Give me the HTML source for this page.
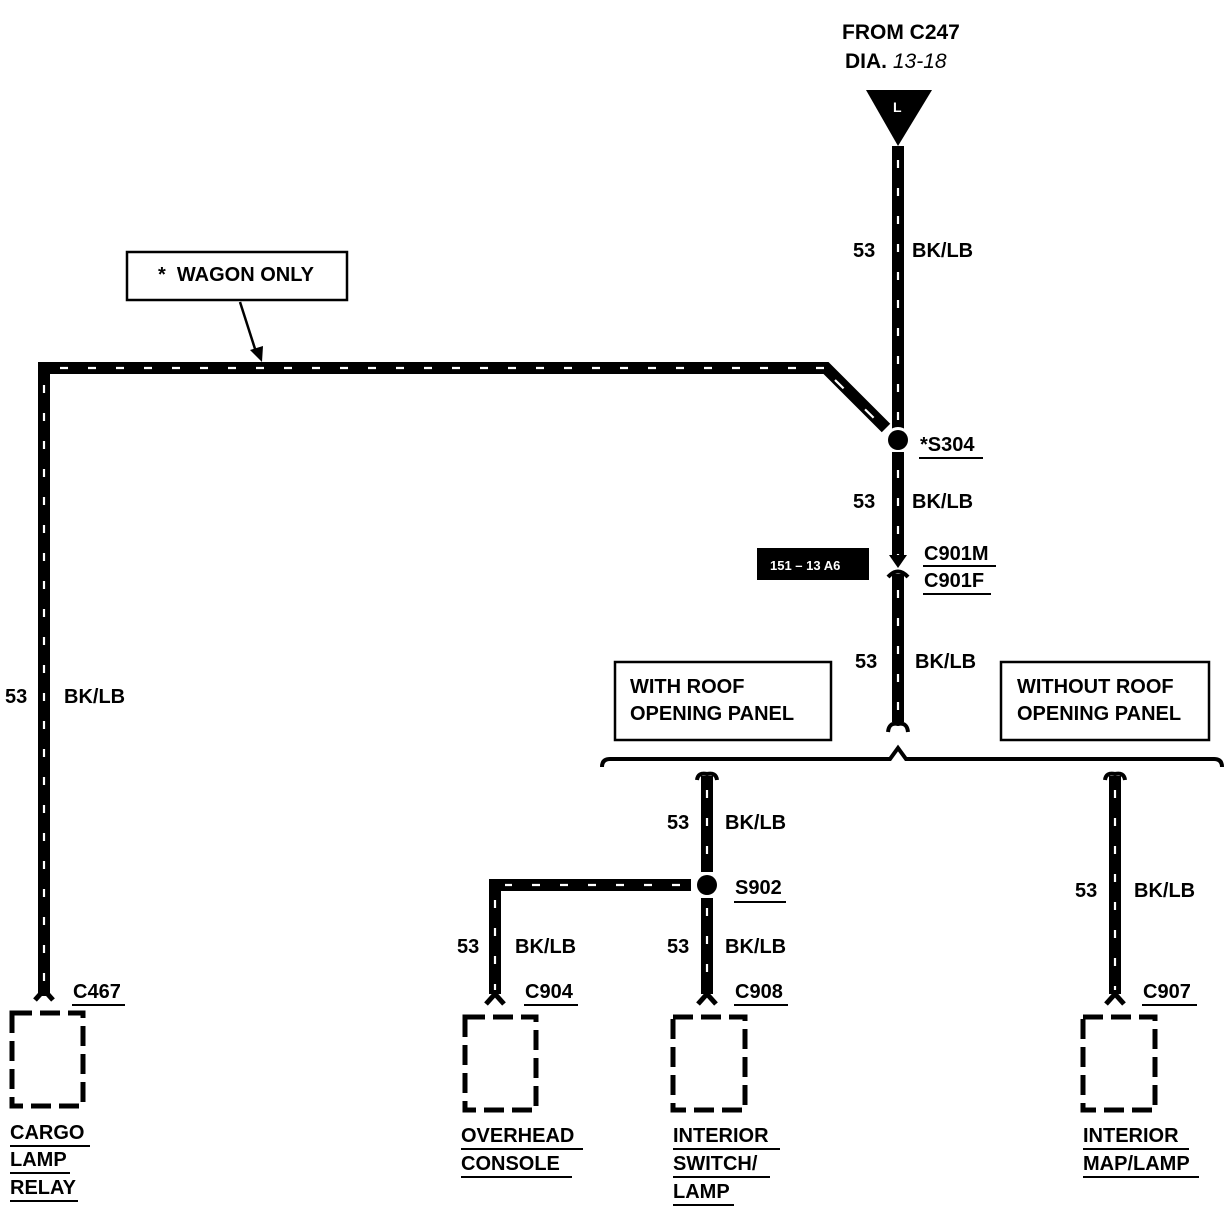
<!DOCTYPE html>
<html><head><meta charset="utf-8"><style>
html,body{margin:0;padding:0;background:#fff}
svg{display:block}
text{font-family:"Liberation Sans",Arial,sans-serif;font-weight:bold;fill:#000}
.w{stroke:#000;stroke-width:12;fill:none}
.d{stroke:#fff;stroke-width:2.2;fill:none;stroke-dasharray:8 20}
.b{stroke:#000;stroke-width:5;fill:none;stroke-dasharray:20 8}
.u{stroke:#000;stroke-width:2}
</style></head><body>
<svg width="1230" height="1216" viewBox="0 0 1230 1216">
<text x="842" y="39" font-size="21">FROM C247</text>
<text x="845" y="68" font-size="21">DIA. <tspan font-style="italic" font-weight="normal">13-18</tspan></text>
<polygon points="866,90 932,90 898,146" fill="#000"/>
<text x="893" y="112" font-size="14" style="fill:#fff">L</text>

<path class="w" d="M898,146 V430"/>
<path class="d" d="M898,160 V430"/>
<text x="853" y="257" font-size="20">53</text>
<text x="912" y="257" font-size="20">BK/LB</text>

<path class="w" d="M44,996 V368 H826 L886,428"/>
<path class="d" d="M60,368 H826"/>
<path class="d" d="M44,385 V990"/>
<path class="d" d="M835,380 L880,424" style="stroke-dasharray:12 30"/>
<text x="5" y="703" font-size="20">53</text>
<text x="64" y="703" font-size="20">BK/LB</text>

<rect x="127" y="252" width="220" height="48" fill="#fff" stroke="#000" stroke-width="2.5"/>
<text x="158" y="281" font-size="20">*&#160;&#160;WAGON ONLY</text>
<path d="M240,302 L256,352" stroke="#000" stroke-width="2.5"/>
<polygon points="250,350 262,362 263,346" fill="#000"/>

<circle cx="898" cy="440" r="13" fill="#fff"/>
<circle cx="898" cy="440" r="10" fill="#000"/>
<text x="920" y="451" font-size="20">*S304</text>
<line class="u" x1="919" y1="458" x2="983" y2="458"/>

<path class="w" d="M898,452 V558"/>
<path class="d" d="M898,470 V558"/>
<polygon points="889,555 907,555 898,568" fill="#000"/>
<text x="853" y="508" font-size="20">53</text>
<text x="912" y="508" font-size="20">BK/LB</text>
<rect x="757" y="548" width="112" height="32" fill="#000"/>
<text x="770" y="570" font-size="13" style="fill:#fff">151 – 13 A6</text>
<text x="924" y="560" font-size="20">C901M</text>
<line class="u" x1="923" y1="566" x2="996" y2="566"/>
<text x="924" y="587" font-size="20">C901F</text>
<line class="u" x1="923" y1="594" x2="991" y2="594"/>
<path d="M888,577 Q898,566 908,577" stroke="#000" stroke-width="4" fill="none"/>
<path class="w" d="M898,574 V722"/>
<path class="d" d="M898,590 V720"/>
<path d="M888,732 Q889,722 898,724 Q907,722 908,732" stroke="#000" stroke-width="4" fill="none"/>
<text x="855" y="668" font-size="20">53</text>
<text x="915" y="668" font-size="20">BK/LB</text>

<rect x="615" y="662" width="216" height="78" fill="#fff" stroke="#000" stroke-width="2.5"/>
<text x="630" y="693" font-size="20">WITH ROOF</text>
<text x="630" y="720" font-size="20">OPENING PANEL</text>
<rect x="1001" y="662" width="208" height="78" fill="#fff" stroke="#000" stroke-width="2.5"/>
<text x="1017" y="693" font-size="20">WITHOUT ROOF</text>
<text x="1017" y="720" font-size="20">OPENING PANEL</text>

<path d="M602,767 Q602,759 610,759 H890 L898,748 L906,759 H1214 Q1222,759 1222,767" stroke="#000" stroke-width="4" fill="none"/>

<path d="M697,780 Q698,772 707,774 Q716,772 717,780" stroke="#000" stroke-width="4" fill="none"/>
<path class="w" d="M707,776 V872"/>
<path class="d" d="M707,790 V868"/>
<text x="667" y="829" font-size="20">53</text>
<text x="725" y="829" font-size="20">BK/LB</text>
<circle cx="707" cy="885" r="10" fill="#000"/>
<text x="735" y="894" font-size="20">S902</text>
<line class="u" x1="734" y1="902" x2="786" y2="902"/>
<path class="w" d="M691,885 H495 V994"/>
<path class="d" d="M680,885 H505"/>
<path class="d" d="M495,900 V990"/>
<path class="w" d="M707,898 V994"/>
<path class="d" d="M707,908 V990"/>
<text x="457" y="953" font-size="20">53</text>
<text x="515" y="953" font-size="20">BK/LB</text>
<text x="667" y="953" font-size="20">53</text>
<text x="725" y="953" font-size="20">BK/LB</text>

<path d="M1105,780 Q1106,772 1115,774 Q1124,772 1125,780" stroke="#000" stroke-width="4" fill="none"/>
<path class="w" d="M1115,776 V994"/>
<path class="d" d="M1115,790 V990"/>
<text x="1075" y="897" font-size="20">53</text>
<text x="1134" y="897" font-size="20">BK/LB</text>

<g stroke="#000" stroke-width="5" fill="none">
<path d="M35,1000 Q44,990 44,990 Q44,990 53,1000"/>
<path d="M486,1004 Q495,994 495,994 Q495,994 504,1004"/>
<path d="M698,1004 Q707,994 707,994 Q707,994 716,1004"/>
<path d="M1106,1004 Q1115,994 1115,994 Q1115,994 1124,1004"/>
</g>

<text x="73" y="998" font-size="20">C467</text><line class="u" x1="72" y1="1005" x2="125" y2="1005"/>
<text x="525" y="998" font-size="20">C904</text><line class="u" x1="524" y1="1005" x2="578" y2="1005"/>
<text x="735" y="998" font-size="20">C908</text><line class="u" x1="734" y1="1005" x2="788" y2="1005"/>
<text x="1143" y="998" font-size="20">C907</text><line class="u" x1="1142" y1="1005" x2="1197" y2="1005"/>

<rect class="b" x="12" y="1013" width="71" height="93"/>
<rect class="b" x="465" y="1017" width="71" height="93"/>
<rect class="b" x="673" y="1017" width="72" height="93"/>
<rect class="b" x="1083" y="1017" width="72" height="93"/>

<text x="10" y="1139" font-size="20">CARGO</text><line class="u" x1="10" y1="1146" x2="90" y2="1146"/>
<text x="10" y="1166" font-size="20">LAMP</text><line class="u" x1="10" y1="1173" x2="70" y2="1173"/>
<text x="10" y="1194" font-size="20">RELAY</text><line class="u" x1="10" y1="1201" x2="78" y2="1201"/>
<text x="461" y="1142" font-size="20">OVERHEAD</text><line class="u" x1="461" y1="1149" x2="583" y2="1149"/>
<text x="461" y="1170" font-size="20">CONSOLE</text><line class="u" x1="461" y1="1177" x2="572" y2="1177"/>
<text x="673" y="1142" font-size="20">INTERIOR</text><line class="u" x1="673" y1="1149" x2="780" y2="1149"/>
<text x="673" y="1170" font-size="20">SWITCH/</text><line class="u" x1="673" y1="1177" x2="770" y2="1177"/>
<text x="673" y="1198" font-size="20">LAMP</text><line class="u" x1="673" y1="1205" x2="734" y2="1205"/>
<text x="1083" y="1142" font-size="20">INTERIOR</text><line class="u" x1="1083" y1="1149" x2="1189" y2="1149"/>
<text x="1083" y="1170" font-size="20">MAP/LAMP</text><line class="u" x1="1083" y1="1177" x2="1199" y2="1177"/>
</svg>
</body></html>
